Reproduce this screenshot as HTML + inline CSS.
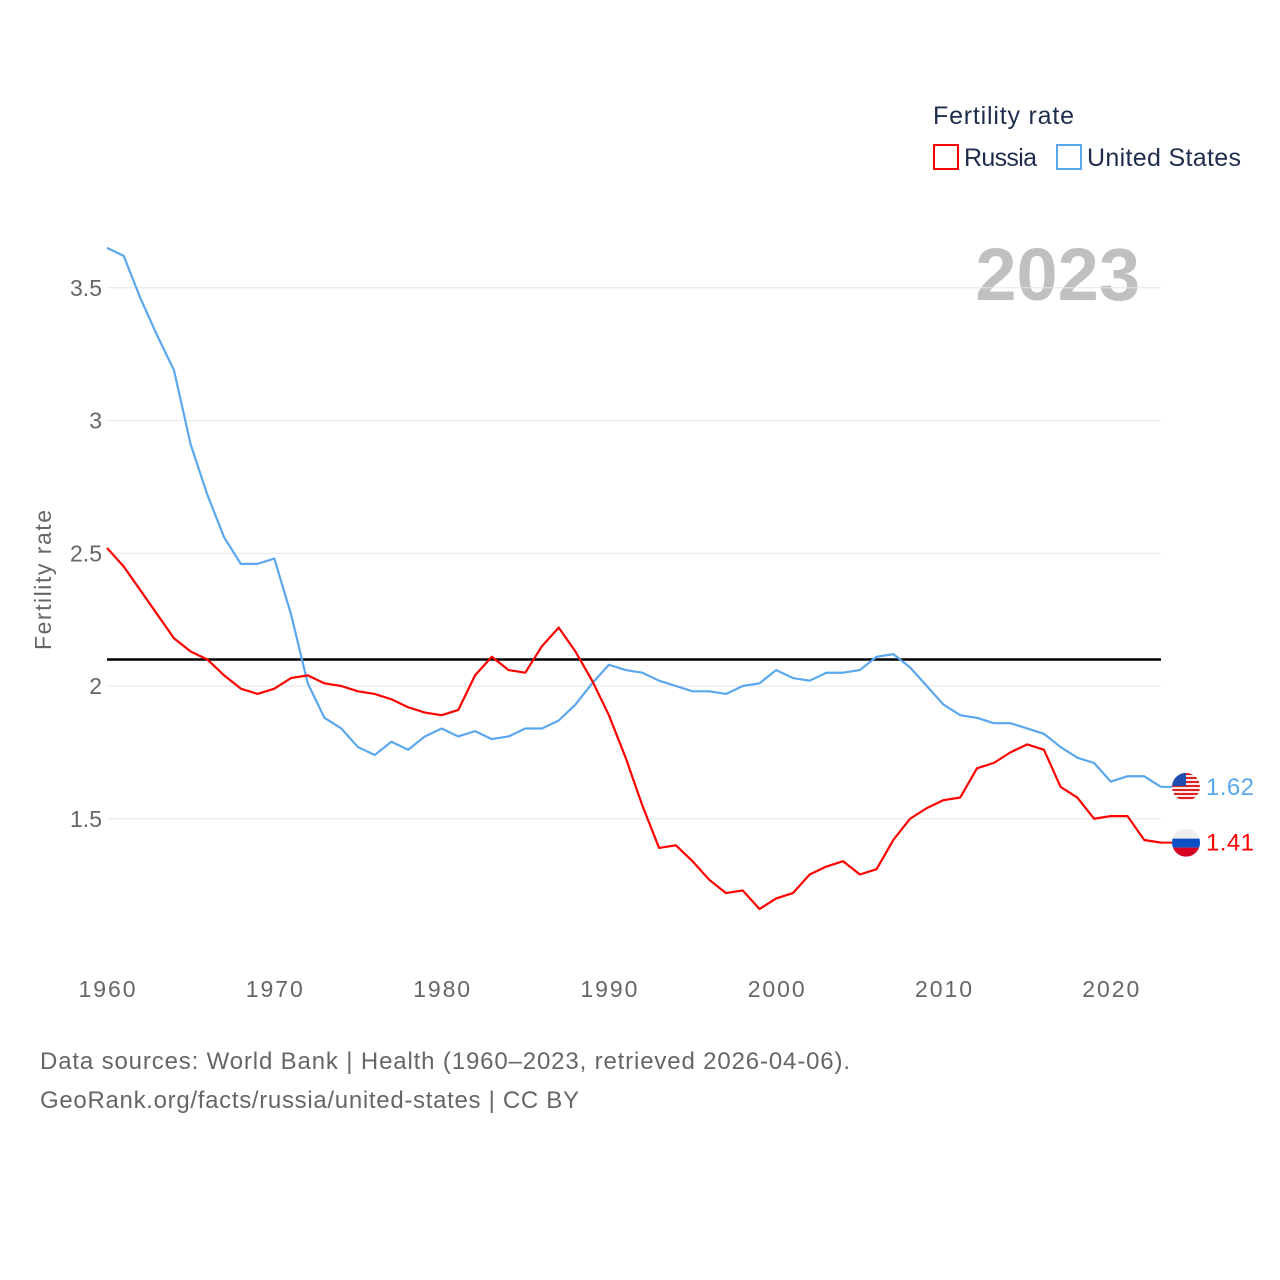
<!DOCTYPE html>
<html><head><meta charset="utf-8"><style>
body{margin:0;background:#fff;font-family:"Liberation Sans",sans-serif}
svg{display:block}
</style></head><body>
<svg id="chart" width="1280" height="1280" viewBox="0 0 1280 1280">
<defs><clipPath id="cUS"><circle id="cUSc" cx="1186" cy="786" r="14"/></clipPath><clipPath id="cRU"><circle id="cRUc" cx="1186" cy="842" r="14"/></clipPath></defs>
<text x="933" y="124" font-size="25" fill="#1f2d4d" textLength="141">Fertility rate</text>
<g><rect x="934" y="145" width="24" height="24" fill="none" stroke="#ff0000" stroke-width="2"/><text x="964" y="166" font-size="25" fill="#1f2d4d" textLength="73">Russia</text></g>
<g><rect x="1057" y="145" width="24" height="24" fill="none" stroke="#5ba7ee" stroke-width="2"/><text x="1087" y="166" font-size="25" fill="#1f2d4d" textLength="154">United States</text></g>
<text x="1140" y="300" font-size="74" font-weight="bold" fill="#c0c0c0" text-anchor="end">2023</text>
<text transform="translate(51,580) rotate(-90)" font-size="23" fill="#666" text-anchor="middle" textLength="140">Fertility rate</text>
<g id="grid"></g><g id="lines"></g>
<text x="40" y="1069" font-size="24" fill="#666" textLength="810">Data sources: World Bank | Health (1960–2023, retrieved 2026-04-06).</text>
<text x="40" y="1108" font-size="24" fill="#666" textLength="539">GeoRank.org/facts/russia/united-states | CC BY</text>
</svg>
<script>
const years=[];for(let y=1960;y<=2023;y++)years.push(y);
const usValues=[3.65,3.62,3.46,3.32,3.19,2.91,2.72,2.56,2.46,2.46,2.48,2.27,2.01,1.88,1.84,1.77,1.74,1.79,1.76,1.81,1.84,1.81,1.83,1.80,1.81,1.84,1.84,1.87,1.93,2.01,2.08,2.06,2.05,2.02,2.00,1.98,1.98,1.97,2.00,2.01,2.06,2.03,2.02,2.05,2.05,2.06,2.11,2.12,2.07,2.00,1.93,1.89,1.88,1.86,1.86,1.84,1.82,1.77,1.73,1.71,1.64,1.66,1.66,1.62];
const ruValues=[2.52,2.45,2.36,2.27,2.18,2.13,2.10,2.04,1.99,1.97,1.99,2.03,2.04,2.01,2.00,1.98,1.97,1.95,1.92,1.90,1.89,1.91,2.04,2.11,2.06,2.05,2.15,2.22,2.13,2.02,1.89,1.73,1.55,1.39,1.40,1.34,1.27,1.22,1.23,1.16,1.20,1.22,1.29,1.32,1.34,1.29,1.31,1.42,1.50,1.54,1.57,1.58,1.69,1.71,1.75,1.78,1.76,1.62,1.58,1.50,1.51,1.51,1.42,1.41];
const yTicks=[1.5,2,2.5,3,3.5];
const yTickLabels=["1.5","2","2.5","3","3.5"];
const xTicks=[1960,1970,1980,1990,2000,2010,2020];
const refValue=2.1;
const NS="http://www.w3.org/2000/svg";
const X=y=>107+(y-1960)*16.73;
const Y=v=>686-(v-2)*265.5;
const grid=document.getElementById('grid'),lines=document.getElementById('lines');
function mk(tag,attrs,parent,text){const e=document.createElementNS(NS,tag);for(const k in attrs)e.setAttribute(k,attrs[k]);if(text!=null)e.textContent=text;parent.appendChild(e);return e;}
yTicks.forEach((t,i)=>{
 const l=mk('line',{x1:107,x2:1161,y1:Y(t),y2:Y(t),stroke:'#e6e6e6','stroke-width':1},grid);
 
 
 const tx=mk('text',{x:102,y:Y(t)+8,'font-size':23,fill:'#666','text-anchor':'end'},grid,yTickLabels[i]);
 
 
});
xTicks.forEach(t=>{
 const tx=mk('text',{x:X(t),y:997,'font-size':23,fill:'#666','text-anchor':'middle',textLength:57},grid,String(t));
 
 
});
const ref=mk('line',{x1:107,x2:1161,y1:Y(refValue),y2:Y(refValue),stroke:'#000','stroke-width':2.5},lines);


function series(vals,color,name){
 const p=mk('polyline',{points:vals.map((v,i)=>X(years[i])+','+Y(v)).join(' '),fill:'none',stroke:color,'stroke-width':2.2,'stroke-linejoin':'round'},lines);
 
 
 const last=vals[vals.length-1];const ly=Y(last);
 mk('line',{x1:X(2023),x2:1172,y1:ly,y2:ly,stroke:color,'stroke-width':2},lines);
 const g=mk('g',{},lines);
 
 
 return {ly,g,last};
}
const us=series(usValues,'#5ba7ee','united-states');
const ru=series(ruValues,'#ff0000','russia');
document.getElementById('cUSc').setAttribute('cy',us.ly);
document.getElementById('cRUc').setAttribute('cy',ru.ly);
(function(){const cx=1186,cy=us.ly,r=14;const g=mk('g',{'clip-path':'url(#cUS)'},us.g);
 mk('rect',{x:cx-r,y:cy-r,width:2*r,height:2*r,fill:'#fff'},g);
 for(let i=0;i<7;i++)mk('rect',{x:cx-r,y:cy-r+i*4,width:2*r,height:2.2,fill:'#d22'},g);
 mk('rect',{x:cx-r,y:cy-r,width:r,height:13,fill:'#1e4fb0'},g);
})();
(function(){const cx=1186,cy=ru.ly,r=14;const g=mk('g',{'clip-path':'url(#cRU)'},ru.g);
 mk('rect',{x:cx-r,y:cy-r,width:2*r,height:2*r,fill:'#eee'},g);
 mk('rect',{x:cx-r,y:cy-4,width:2*r,height:9,fill:'#0b4fc4'},g);
 mk('rect',{x:cx-r,y:cy+5,width:2*r,height:10,fill:'#d80021'},g);
})();
[[us,'#5ba7ee','united-states'],[ru,'#ff0000','russia']].forEach(([s,c,n])=>{
 const t=mk('text',{x:1206,y:s.ly+8,'font-size':24,fill:c,textLength:48},lines,s.last.toFixed(2));
 
 
});
</script>
</body></html>
